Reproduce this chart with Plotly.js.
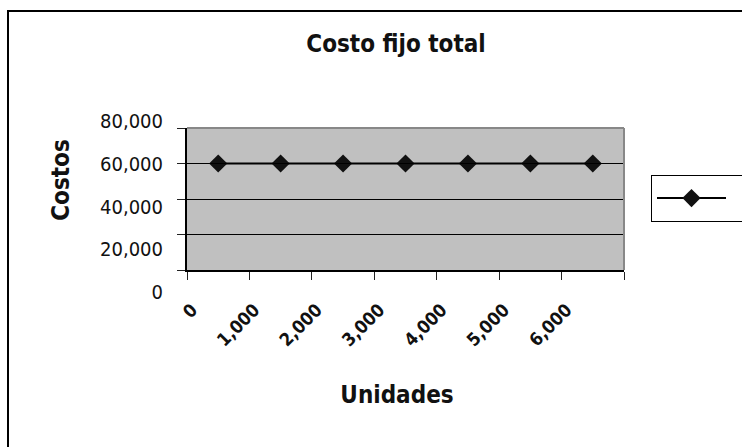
<!DOCTYPE html>
<html><head><meta charset="utf-8">
<script src="https://cdn.plot.ly/plotly-3.0.1.min.js"></script>
<style>html,body{margin:0;padding:0;background:#fff}#chart{width:742px;height:447px}</style>
</head><body><div id="chart"></div>
<script>
// ---- data ----
const categories = ['0', '1,000', '2,000', '3,000', '4,000', '5,000', '6,000'];
const costoFijo = [60000, 60000, 60000, 60000, 60000, 60000, 60000];
const yTickValues = [0, 20000, 40000, 60000, 80000];
const chartTitle = 'Costo fijo total';
const xTitle = 'Unidades';
const yTitle = 'Costos';
const seriesName = '';

// ---- layout geometry ----
const NARROW = "'Liberation Sans Narrow', 'DejaVu Sans Condensed', 'Arial Narrow', sans-serif";
const W = 742, H = 447;
const L = 187, R = 624, T = 68, B = 292;
const pw = R - L, ph = B - T;
const yBottom = 270, yTop = 128;
const mainYDomain = [(B - yBottom) / ph, (B - yTop) / ph];
const labelTop = 121;
const y2Max = 80000 * (B - T) / (B - labelTop);
const catW = pw / categories.length;
const x2Right = 607;
const x2Domain = [0, (x2Right - L) / pw];
const x2Offset = 5;
const x2r0 = -x2Offset / catW;
const x2r1 = x2r0 + (x2Right - L) / catW;

const ghost = {mode: 'markers', marker: {opacity: 0, size: 1}, hoverinfo: 'skip', showlegend: false};

const traces = [
  {
    x: categories, y: costoFijo, xaxis: 'x', yaxis: 'y', name: seriesName,
    type: 'scatter', mode: 'lines+markers',
    line: {color: '#000', width: 2},
    marker: {symbol: 'diamond', size: 14, color: '#111'},
    showlegend: true, hoverinfo: 'skip'
  },
  Object.assign({x: categories, y: costoFijo, xaxis: 'x2', yaxis: 'y', type: 'scatter'}, ghost),
  Object.assign({x: categories, y: costoFijo, xaxis: 'x', yaxis: 'y2', type: 'scatter'}, ghost)
];

const layout = {
  width: W, height: H,
  margin: {l: L, r: W - R, t: T, b: H - B, autoexpand: false},
  paper_bgcolor: '#fff', plot_bgcolor: 'rgba(0,0,0,0)',
  font: {family: NARROW, color: '#111'},
  showlegend: true,
  title: {
    text: chartTitle, xref: 'container', yref: 'container',
    x: 396 / W, xanchor: 'center', y: 1 - 44 / H, yanchor: 'middle',
    font: {family: NARROW, size: 24, weight: 'bold', color: '#111'}
  },
  xaxis: {
    type: 'category', domain: [0, 1], range: [-0.5, categories.length - 0.5], anchor: 'y',
    tickson: 'boundaries', ticks: 'outside', ticklen: 8, tickwidth: 1, tickcolor: '#222',
    showticklabels: false, showline: true, linecolor: '#000', linewidth: 2,
    showgrid: false, zeroline: false, fixedrange: true
  },
  yaxis: {
    domain: mainYDomain, range: [0, 80000], anchor: 'x',
    tickmode: 'array', tickvals: yTickValues, ticks: 'outside', ticklen: 8, tickwidth: 1, tickcolor: '#222',
    showticklabels: false, showline: true, linecolor: '#000', linewidth: 2,
    showgrid: true, gridcolor: '#000', gridwidth: 1, zeroline: false, fixedrange: true
  },
  xaxis2: {
    type: 'category', domain: x2Domain, range: [x2r0, x2r1], anchor: 'y', side: 'bottom',
    showline: false, ticks: '', showgrid: false, zeroline: false, tickangle: -45,
    tickfont: {family: NARROW, size: 18, weight: 'bold', color: '#111'},
    ticklabelstandoff: 25,
    title: {text: xTitle, font: {family: NARROW, size: 24, weight: 'bold', color: '#111'}, standoff: 36},
    fixedrange: true
  },
  yaxis2: {
    domain: [0, 1], range: [0, y2Max], anchor: 'free', position: 0, side: 'left',
    tickmode: 'array', tickvals: yTickValues, tickformat: ',d',
    ticks: '', showline: false, showgrid: false, zeroline: false,
    tickfont: {family: NARROW, size: 20, color: '#111'},
    ticklabelstandoff: 24,
    title: {text: yTitle, font: {family: NARROW, size: 24, weight: 'bold', color: '#111'}, standoff: 22},
    fixedrange: true
  },
  legend: {
    x: (651 - L) / pw, y: (B - 175) / ph, xanchor: 'left', yanchor: 'top',
    orientation: 'h', entrywidth: 100, itemwidth: 69,
    bordercolor: '#000', borderwidth: 1, bgcolor: '#fff',
    font: {family: NARROW, size: 24, color: '#111'}
  },
  shapes: [
    {type: 'rect', xref: 'x domain', yref: 'y domain', x0: 0, x1: 1, y0: 0, y1: 1,
     fillcolor: '#c0c0c0', line: {width: 0}, layer: 'below'},
    {type: 'line', xref: 'x domain', yref: 'y domain', x0: 0, x1: 1, y0: 1, y1: 1,
     line: {color: '#888', width: 2}, layer: 'above'},
    {type: 'line', xref: 'x domain', yref: 'y domain', x0: 1, x1: 1, y0: 0, y1: 1,
     line: {color: '#888', width: 2}, layer: 'above'},
    {type: 'rect', xref: 'paper', yref: 'paper', x0: (8 - L) / pw, x1: 2, y0: -2, y1: (B - 11) / ph,
     fillcolor: 'rgba(0,0,0,0)', line: {color: '#000', width: 2}, layer: 'above'}
  ]
};

Plotly.newPlot('chart', traces, layout, {displayModeBar: false, staticPlot: true});
</script>
</body></html>
